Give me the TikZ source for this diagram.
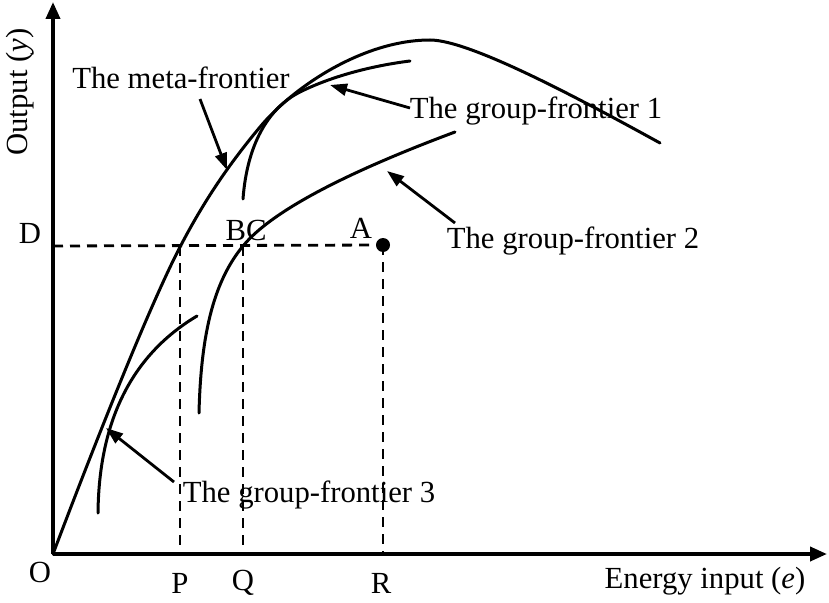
\documentclass[tikz,border=0pt]{standalone}
\usepackage{fontspec}
\setmainfont{Liberation Serif}
\usetikzlibrary{arrows.meta,positioning}

\begin{document}
\begin{tikzpicture}[x=1pt, y=-1pt,
    axis/.style={line width=3.8pt, -{Triangle[length=17pt,width=14pt]}},
    frontier/.style={line width=3pt, line cap=round},
    guide/.style={line width=2.8pt, dash pattern=on 10pt off 7pt},
    pointer/.style={line width=2.8pt, -{Triangle[length=17pt,width=12pt]}},
    lbl/.style={font=\fontsize{30.7}{36}\selectfont, inner sep=0pt},
  ]
  \useasboundingbox (0,0) rectangle (829,602);

  % Axes
  \coordinate (O) at (53,554);
  \coordinate (ytop) at (53,2);
  \coordinate (xend) at (827,554);
  \draw[axis] (O) -- (ytop);
  \draw[axis] (O) -- (xend);
  \node[lbl, rotate=90] (ylab) at (20,92) {Output (\textit{y})};
  \node[lbl] (xlab) at (705,581) {Energy input (\textit{e})};

  % Frontiers
  \draw[frontier] (O) .. controls (100,430) and (150,305) .. (180,247)
    .. controls (205,199) and (230,163) .. (260,127)
    .. controls (295,85) and (365,40) .. (430,40)
    .. controls (470,40) and (580,99) .. (660,143);
  \draw[frontier] (243,199) .. controls (247,145) and (268,108) .. (300,92)
    .. controls (330,77) and (370,66) .. (410,61);
  \draw[frontier] (199,413) .. controls (201,330) and (215,280) .. (243,246)
    .. controls (278,203) and (380,160) .. (455,132);
  \draw[frontier] (98,513) .. controls (99,410) and (140,350) .. (197,316);

  % Points and guide lines
  \coordinate (Dp) at (53,246);
  \coordinate (Bp) at (180,246);
  \coordinate (Cp) at (243,246);
  \coordinate (Ap) at (383,245);
  \coordinate (Pp) at (180,554);
  \coordinate (Qp) at (243,554);
  \coordinate (Rp) at (383,554);
  \draw[guide] (Dp) -- (Ap);
  \draw[guide] (Bp) -- (Pp);
  \draw[guide] (Cp) -- (Qp);
  \draw[guide] (Ap) -- (Rp);
  \fill (Ap) circle (7pt);

  \node[lbl] (O-lab) at (40,572) {O};
  \node[lbl] (P-lab) at (180,583) {P};
  \node[lbl] (Q-lab) at (243,583) {Q};
  \node[lbl] (R-lab) at (381,583) {R};
  \node[lbl] (D-lab) at (30,233) {D};
  \node[lbl] (A-lab) at (361,228) {A};
  \node[lbl] (BC-lab) at (246,230) {BC};

  % Labels with pointers
  \node[lbl] (meta) at (181,78) {The meta-frontier};
  \node[lbl] (gf1) at (536,111) {The group-frontier 1};
  \node[lbl] (gf2) at (573,241) {The group-frontier 2};
  \node[lbl] (gf3) at (309,495) {The group-frontier 3};

  \coordinate (meta-tip) at (227,170);
  \coordinate (gf1-tip) at (330,85);
  \coordinate (gf2-tip) at (387,171);
  \coordinate (gf3-tip) at (106,428);
  \draw[pointer] (200,99) -- (meta-tip);
  \draw[pointer] (410,108) -- (gf1-tip);
  \draw[pointer] (455,223) -- (gf2-tip);
  \draw[pointer] (174,482) -- (gf3-tip);
\end{tikzpicture}
\end{document}
